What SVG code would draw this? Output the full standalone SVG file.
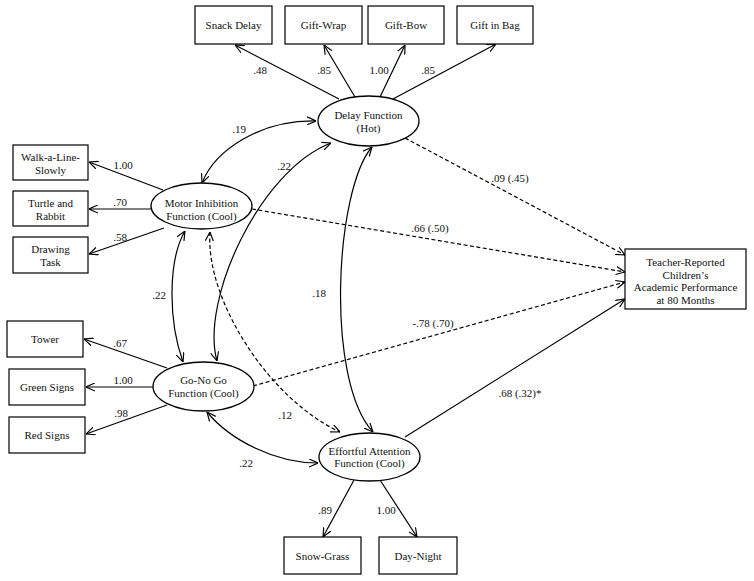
<svg xmlns="http://www.w3.org/2000/svg" width="754" height="581" viewBox="0 0 754 581">
<defs>
<marker id="ah" viewBox="0 0 10 10" refX="10" refY="5" markerWidth="9" markerHeight="9" markerUnits="userSpaceOnUse" orient="auto-start-reverse">
<path d="M0,0.5 L10,5 L0,9.5" fill="none" stroke="#000" stroke-width="1.3"/>
</marker>
</defs>
<style>
text{font-family:"Liberation Serif","Times New Roman",serif;font-size:11px;fill:#111;text-anchor:middle}
.box{fill:#fff;stroke:#000;stroke-width:1.2}
.ell{fill:#fff;stroke:#000;stroke-width:1.3}
.c{fill:none;stroke:#000;stroke-width:1.2}
.d{stroke-dasharray:4,2.5}
.one{marker-end:url(#ah)}
.two{marker-start:url(#ah);marker-end:url(#ah)}
</style>
<rect width="754" height="581" fill="#fff"/>
<g id="connectors">
<line class="c one" x1="339" y1="99" x2="235" y2="45"/>
<line class="c one" x1="355" y1="97" x2="324" y2="45"/>
<line class="c one" x1="380" y1="97" x2="405" y2="45"/>
<line class="c one" x1="393" y1="99" x2="496" y2="44"/>
<line class="c one" x1="163" y1="190" x2="89" y2="162"/>
<line class="c one" x1="151" y1="209" x2="89" y2="209"/>
<line class="c one" x1="164" y1="228" x2="89" y2="254"/>
<line class="c one" x1="167" y1="368" x2="84" y2="339"/>
<line class="c one" x1="153" y1="387" x2="86" y2="387"/>
<line class="c one" x1="167" y1="405" x2="86" y2="434"/>
<line class="c one" x1="354" y1="480" x2="323" y2="537"/>
<line class="c one" x1="380" y1="480" x2="417" y2="537"/>
<line class="c d one" x1="405" y1="138" x2="625" y2="255"/>
<line class="c d one" x1="252" y1="209" x2="625" y2="272"/>
<line class="c d one" x1="253" y1="386" x2="625" y2="282"/>
<line class="c one" x1="405" y1="437" x2="625" y2="299"/>
<path class="c two" d="M202,183 C215,150 260,120 316,121"/>
<path class="c two" d="M217,361 C200,300 260,170 331,143"/>
<path class="c two" d="M185,231 C168,260 168,320 183,362"/>
<path class="c d two" d="M210,232 C205,300 270,400 340,432"/>
<path class="c two" d="M372,147 C335,190 325,380 373,432"/>
<path class="c two" d="M207,412 C230,440 275,463 318,463"/>
</g>
<g id="labels">
<text x="260" y="74">.48</text>
<text x="324" y="74">.85</text>
<text x="379" y="74">1.00</text>
<text x="428" y="74">.85</text>
<text x="123" y="169">1.00</text>
<text x="120" y="206">.70</text>
<text x="120" y="241">.58</text>
<text x="120" y="347">.67</text>
<text x="123" y="384">1.00</text>
<text x="121" y="417">.98</text>
<text x="325" y="514">.89</text>
<text x="386" y="514">1.00</text>
<text x="239" y="133">.19</text>
<text x="284" y="170">.22</text>
<text x="319" y="297">.18</text>
<text x="159" y="299">.22</text>
<text x="285" y="419">.12</text>
<text x="246" y="467">.22</text>
<text x="510" y="182">.09 (.45)</text>
<text x="430" y="232">.66 (.50)</text>
<text x="433" y="327">-.78 (.70)</text>
<text x="520" y="397">.68 (.32)*</text>
</g>
<g id="snack-delay"><rect class="box" x="195" y="6" width="77" height="38"/><text x="233.5" y="29">Snack Delay</text></g>
<g id="gift-wrap"><rect class="box" x="285" y="6" width="77" height="38"/><text x="323.5" y="29">Gift-Wrap</text></g>
<g id="gift-bow"><rect class="box" x="368" y="6" width="76" height="38"/><text x="406" y="29">Gift-Bow</text></g>
<g id="gift-in-bag"><rect class="box" x="457" y="6" width="76" height="38"/><text x="495" y="29">Gift in Bag</text></g>
<g id="walk-a-line"><rect class="box" x="13" y="145" width="75" height="35"/><text x="50.5" y="161">Walk-a-Line-</text><text x="50.5" y="174">Slowly</text></g>
<g id="turtle-rabbit"><rect class="box" x="13" y="191" width="75" height="35"/><text x="50.5" y="207">Turtle and</text><text x="50.5" y="220">Rabbit</text></g>
<g id="drawing-task"><rect class="box" x="13" y="237" width="75" height="36"/><text x="50.5" y="253">Drawing</text><text x="50.5" y="266">Task</text></g>
<g id="tower"><rect class="box" x="7" y="321" width="76" height="36"/><text x="45" y="343">Tower</text></g>
<g id="green-signs"><rect class="box" x="9" y="369" width="76" height="36"/><text x="47" y="391">Green Signs</text></g>
<g id="red-signs"><rect class="box" x="9" y="417" width="76" height="36"/><text x="47" y="439">Red Signs</text></g>
<g id="snow-grass"><rect class="box" x="284" y="537" width="77" height="37"/><text x="322.5" y="560">Snow-Grass</text></g>
<g id="day-night"><rect class="box" x="379" y="537" width="78" height="37"/><text x="418" y="560">Day-Night</text></g>
<g id="delay-function"><ellipse class="ell" cx="368.5" cy="121" rx="50.5" ry="25"/><text x="368.5" y="119">Delay Function</text><text x="368.5" y="132">(Hot)</text></g>
<g id="motor-inhibition"><ellipse class="ell" cx="201.5" cy="206" rx="50.5" ry="23"/><text x="201.5" y="207">Motor Inhibition</text><text x="201.5" y="220">Function (Cool)</text></g>
<g id="go-no-go"><ellipse class="ell" cx="203.5" cy="386.5" rx="50.5" ry="24.5"/><text x="203.5" y="384">Go-No Go</text><text x="203.5" y="397">Function (Cool)</text></g>
<g id="effortful-attention"><ellipse class="ell" cx="369.5" cy="457" rx="50.5" ry="24"/><text x="369.5" y="455">Effortful Attention</text><text x="369.5" y="467">Function (Cool)</text></g>
<g id="teacher-reported"><rect class="box" x="625" y="249" width="121" height="60"/><text x="685.5" y="266">Teacher-Reported</text><text x="685.5" y="278.7">Children’s</text><text x="685.5" y="291.3">Academic Performance</text><text x="685.5" y="304">at 80 Months</text></g>
</svg>
